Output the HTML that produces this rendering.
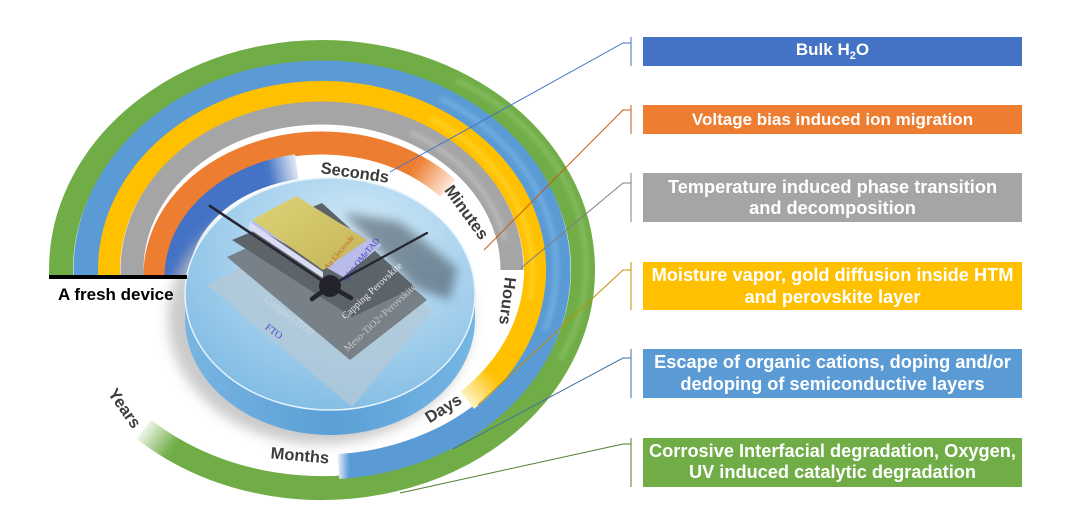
<!DOCTYPE html>
<html><head><meta charset="utf-8"><style>
html,body{margin:0;padding:0;background:#fff;}
svg{display:block;}
.t{font-family:"Liberation Sans",Arial,sans-serif;font-weight:bold;}
</style></head><body>
<svg width="1066" height="517" viewBox="0 0 1066 517" xmlns="http://www.w3.org/2000/svg">
<defs>
 <linearGradient id="gFade" gradientUnits="userSpaceOnUse" x1="172" y1="449" x2="144" y2="429"><stop offset="0" stop-color="#70ad47"/><stop offset="1" stop-color="#eef6e8"/></linearGradient>
 <linearGradient id="bFade" gradientUnits="userSpaceOnUse" x1="349" y1="466" x2="338" y2="466"><stop offset="0" stop-color="#5b9bd5"/><stop offset="1" stop-color="#e6effa"/></linearGradient>
 <linearGradient id="yFade" gradientUnits="userSpaceOnUse" x1="494" y1="375" x2="467" y2="400"><stop offset="0" stop-color="#ffc000"/><stop offset="1" stop-color="#fff3c6"/></linearGradient>
 <linearGradient id="oFade" gradientUnits="userSpaceOnUse" x1="415" y1="166" x2="448" y2="188"><stop offset="0" stop-color="#ed7d31"/><stop offset="1" stop-color="#fde6d6"/></linearGradient>
 <linearGradient id="dFade" gradientUnits="userSpaceOnUse" x1="268" y1="173" x2="297" y2="167"><stop offset="0" stop-color="#4472c4"/><stop offset="1" stop-color="#e2e9f6"/></linearGradient>
 <radialGradient id="topG" cx="0.6" cy="0.28" r="0.8"><stop offset="0" stop-color="#d6ecf8"/><stop offset="0.5" stop-color="#a8d2ee"/><stop offset="1" stop-color="#7db9e2"/></radialGradient>
 <linearGradient id="sideG" x1="0" y1="0" x2="1" y2="0"><stop offset="0" stop-color="#78b5e2"/><stop offset="0.5" stop-color="#5a9fd6"/><stop offset="1" stop-color="#74b6e4"/></linearGradient>
 <linearGradient id="auG" x1="0" y1="0" x2="1" y2="1"><stop offset="0" stop-color="#dcd476"/><stop offset="1" stop-color="#c6b45a"/></linearGradient>
 <filter id="blur6" x="-20%" y="-20%" width="140%" height="140%"><feGaussianBlur stdDeviation="6"/></filter>
 <filter id="blur5" x="-30%" y="-30%" width="160%" height="160%"><feGaussianBlur stdDeviation="5"/></filter>
 <filter id="blur2" x="-20%" y="-20%" width="140%" height="140%"><feGaussianBlur stdDeviation="2"/></filter>
</defs>

<!-- Rings -->
<g fill="none">
 <path d="M61 275 L61 270 A261 218 0 1 1 172.3 448.6" stroke="#70ad47" stroke-width="24"/>
 <path d="M172.3 448.6 A261 218 0 0 1 144 429.4" stroke="url(#gFade)" stroke-width="24"/>
 <path d="M456 80 A257 214 0 0 1 560 360" stroke="#a9d88a" stroke-width="5" opacity="0.35" filter="url(#blur2)"/>
 <path d="M86 275 L86 270 A236 197 0 1 1 348.7 465.7" stroke="#5b9bd5" stroke-width="25"/>
 <path d="M348.7 465.7 A236 197 0 0 1 338.5 466.5" stroke="url(#bFade)" stroke-width="25"/>
 <path d="M440 98 A240 200 0 0 1 545 330" stroke="#8fcaf2" stroke-width="5" opacity="0.4" filter="url(#blur2)"/>
 <path d="M109 275 L109 270 A213 178 0 1 1 494.3 374.6" stroke="#ffc000" stroke-width="22"/>
 <path d="M494.3 374.6 A213 178 0 0 1 467.3 400.2" stroke="url(#yFade)" stroke-width="22"/>
 <path d="M430 118 A216 181 0 0 1 530 300" stroke="#ffe54a" stroke-width="5" opacity="0.45" filter="url(#blur2)"/>
 <path d="M132 275 L132 270 A190 157 0 0 1 322 113 A190 157 0 0 1 512 270" stroke="#a5a5a5" stroke-width="23"/>
 <path d="M410 132 A193 160 0 0 1 505 240" stroke="#d6d6d6" stroke-width="5" opacity="0.4" filter="url(#blur2)"/>
 <path d="M155 277 L155 275 A167 132 0 0 1 415.4 165.6" stroke="#ed7d31" stroke-width="23"/>
 <path d="M415.4 165.6 A167 132 0 0 1 448 188.4" stroke="url(#oFade)" stroke-width="23"/>
 <path d="M177 277 A145 112 0 0 1 267.7 173.2" stroke="#4472c4" stroke-width="25"/>
 <path d="M267.7 173.2 A145 112 0 0 1 296.8 166.7" stroke="url(#dFade)" stroke-width="25"/>
</g>

<!-- connectors -->
<g fill="none" stroke-width="1">
 <polyline points="390,172 623,43 631,43" stroke="#4472c4"/>
 <line x1="631" y1="37" x2="631" y2="66" stroke="#4472c4"/>
 <polyline points="484,250 623,110 631,110" stroke="#c55a11"/>
 <line x1="631" y1="105" x2="631" y2="134" stroke="#c55a11"/>
 <polyline points="521,268 623,183 631,183" stroke="#7f7f7f"/>
 <line x1="631" y1="173" x2="631" y2="222" stroke="#7f7f7f"/>
 <polyline points="478,405 623,270 631,270" stroke="#bf9000"/>
 <line x1="631" y1="262" x2="631" y2="310" stroke="#bf9000"/>
 <polyline points="453,449 623,358 631,358" stroke="#41719c"/>
 <line x1="631" y1="349" x2="631" y2="398" stroke="#41719c"/>
 <polyline points="400,493 623,444 631,444" stroke="#507e32"/>
 <line x1="631" y1="438" x2="631" y2="487" stroke="#507e32"/>
</g>

<!-- disk -->
<ellipse cx="320" cy="318" rx="152" ry="126" fill="#bdbdbd" filter="url(#blur6)" opacity="0.8"/>
<ellipse cx="330" cy="319" rx="145" ry="116" fill="url(#sideG)"/>
<rect x="185" y="294" width="290" height="25" fill="url(#sideG)"/>
<ellipse cx="330" cy="294" rx="145" ry="116" fill="url(#topG)" stroke="#e6f3fb" stroke-width="1.5"/>

<!-- device stack -->
<polygon points="207,285 318,228 433,310 352,407" fill="#b4c8d6" opacity="0.75"/>
<polygon points="227,257 325,212 427,300 350,360" fill="#737a80" opacity="0.92"/>
<polygon points="343,213 400,222 457,268 450,300 415,288" fill="#3e4a55" opacity="0.55" filter="url(#blur5)"/>
<polygon points="232,240 322,203 415,287 352,317" fill="#5c6369"/>
<polygon points="250,224 300,203 382,245 343,277" fill="#b9bbe8"/>
<polygon points="250,222 323,272 323,278 248,228" fill="#dadcf3"/>
<polygon points="252,220 296,196 367,240 323,270" fill="url(#auG)"/>
<g font-family="'Liberation Serif',serif">
 <text transform="translate(341,254) rotate(-50)" text-anchor="middle" font-size="8" fill="#c06a20">Au Electrode</text>
 <text transform="translate(362,262) rotate(-50)" text-anchor="middle" font-size="8.5" fill="#3a3ac0">Spiro-OMeTAD</text>
 <text transform="translate(374,293) rotate(-43)" text-anchor="middle" font-size="10" fill="#e8e8e8">Capping Perovskite</text>
 <text transform="translate(382,320) rotate(-43)" text-anchor="middle" font-size="10" fill="#c4c8cc">Meso-TiO2+Perovskite</text>
 <text transform="translate(287,318) rotate(37)" text-anchor="middle" font-size="10" fill="#d8dde2" opacity="0.7">Compact TiO2</text>
 <text transform="translate(272,334) rotate(37)" text-anchor="middle" font-size="10" fill="#4a4ad0">FTO</text>
</g>

<!-- clock -->
<g stroke="#25252f" stroke-linecap="round">
 <line x1="330" y1="286" x2="210" y2="206" stroke-width="2.6"/>
 <line x1="330" y1="286" x2="427" y2="233" stroke-width="2.2"/>
 <line x1="330" y1="286" x2="312" y2="299" stroke-width="4.5"/>
 <line x1="330" y1="286" x2="351" y2="298" stroke-width="4.5"/>
</g>
<circle cx="330" cy="286" r="11" fill="#23232d"/>

<!-- time labels -->
<g class="t" font-size="16.5" fill="#3c3c3c" text-anchor="middle">
 <text transform="translate(355,172) rotate(8)" dy="6">Seconds</text>
 <text transform="translate(467,212) rotate(54)" dy="6">Minutes</text>
 <text transform="translate(508,301) rotate(97)" dy="6">Hours</text>
 <text transform="translate(443,408) rotate(-32)" dy="6">Days</text>
 <text transform="translate(300,455) rotate(5)" dy="6">Months</text>
 <text transform="translate(125,408) rotate(55)" dy="6">Years</text>
</g>

<!-- fresh device -->
<rect x="49" y="275" width="138" height="4" fill="#000"/>
<text class="t" x="58" y="300" font-size="17" fill="#000">A fresh device</text>

<!-- boxes -->
<rect x="643" y="37" width="379" height="29" fill="#4472c4"/>
<rect x="643" y="105" width="379" height="29" fill="#ed7d31"/>
<rect x="643" y="173" width="379" height="49" fill="#a5a5a5"/>
<rect x="643" y="262" width="379" height="48" fill="#ffc000"/>
<rect x="643" y="349" width="379" height="49" fill="#5b9bd5"/>
<rect x="643" y="438" width="379" height="49" fill="#70ad47"/>
<g class="t" fill="#fff" text-anchor="middle">
 <text x="832.5" y="55" font-size="17">Bulk H<tspan font-size="11" dy="4">2</tspan><tspan dy="-4">O</tspan></text>
 <text x="832.5" y="125" font-size="17">Voltage bias induced ion migration</text>
 <text x="832.5" y="193" font-size="18.2">Temperature induced phase transition</text>
 <text x="832.5" y="214" font-size="18.2">and decomposition</text>
 <text x="832.5" y="281" font-size="18.2">Moisture vapor, gold diffusion inside HTM</text>
 <text x="832.5" y="303" font-size="18.2">and perovskite layer</text>
 <text x="832.5" y="368" font-size="18.2">Escape of organic cations, doping and/or</text>
 <text x="832.5" y="390" font-size="18.2">dedoping of semiconductive layers</text>
 <text x="832.5" y="457" font-size="18.2">Corrosive Interfacial degradation, Oxygen,</text>
 <text x="832.5" y="478" font-size="18.2">UV induced catalytic degradation</text>
</g>
</svg>
</body></html>
